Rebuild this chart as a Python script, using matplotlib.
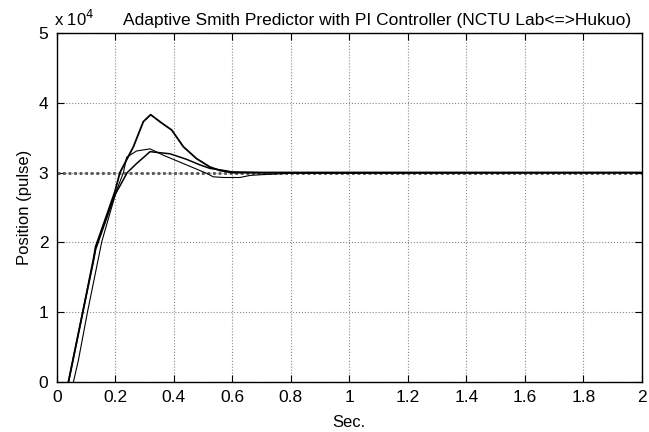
import matplotlib.pyplot as plt

plt.rcParams['font.family'] = ['Liberation Sans', 'DejaVu Sans']

# position in units of 1e4 pulses
t_a = [0.04, 0.089, 0.125, 0.133, 0.165, 0.199, 0.216, 0.262, 0.296, 0.321, 0.359,
       0.393, 0.433, 0.478, 0.524, 0.558, 0.6, 0.7, 2.0]
y_a = [0.0, 1.0, 1.75, 1.94, 2.32, 2.73, 3.0, 3.37, 3.73, 3.83, 3.71,
       3.61, 3.37, 3.2, 3.08, 3.03, 3.0, 3.0, 3.0]

t_b = [0.057, 0.074, 0.105, 0.154, 0.182, 0.205, 0.228, 0.239, 0.273, 0.319, 0.364,
       0.444, 0.512, 0.535, 0.57, 0.626, 0.661, 0.7, 0.75, 0.8, 2.0]
y_b = [0.0, 0.31, 1.0, 2.01, 2.42, 2.75, 3.0, 3.22, 3.31, 3.34, 3.25,
       3.11, 2.99, 2.94, 2.93, 2.93, 2.96, 2.97, 2.98, 2.99, 3.0]

t_c = [0.04, 0.089, 0.125, 0.133, 0.165, 0.199, 0.241, 0.273, 0.319, 0.364, 0.387,
       0.444, 0.49, 0.524, 0.558, 0.6, 0.7, 2.0]
y_c = [0.0, 1.0, 1.72, 1.9, 2.28, 2.68, 3.0, 3.13, 3.3, 3.28, 3.27,
       3.19, 3.11, 3.06, 3.04, 3.01, 3.0, 3.0]

t_ref = [0.0, 2.0]
y_ref = [3.0, 3.0]

fig = plt.figure(figsize=(6.49, 4.32), dpi=100)
ax = fig.add_axes([0.0874, 0.1157, 0.9016, 0.8079])

ax.plot(t_ref, y_ref, color='#555555', lw=2.0, ls=(0, (1, 1)))
ax.plot(t_a, y_a, color='black', lw=1.3)
ax.plot(t_b, y_b, color='black', lw=0.8)
ax.plot(t_c, y_c, color='black', lw=1.1)

ax.set_xlim(0, 2)
ax.set_ylim(0, 5)
ax.set_xticks([0, 0.2, 0.4, 0.6, 0.8, 1, 1.2, 1.4, 1.6, 1.8, 2])
ax.set_xticklabels(['0', '0.2', '0.4', '0.6', '0.8', '1', '1.2', '1.4', '1.6', '1.8', '2'])
ax.set_yticks([0, 1, 2, 3, 4, 5])
ax.grid(True, color='#8a8a8a', ls=':', lw=0.8)
ax.tick_params(direction='in', top=True, right=True, labelsize=12.5, length=5, pad=6)
for s in ax.spines.values():
    s.set_linewidth(1.0)

ax.set_xlabel('Sec.', fontsize=12, labelpad=7)
ax.set_ylabel('Position (pulse)', fontsize=12, labelpad=5)
ax.set_title('Adaptive Smith Predictor with PI Controller (NCTU Lab<=>Hukuo)',
             fontsize=12.5, pad=6, x=0.548)
ax.text(-0.005, 1.012, 'x 10$^4$', transform=ax.transAxes, fontsize=12, ha='left', va='bottom')

fig.savefig('out.png', dpi=100)
